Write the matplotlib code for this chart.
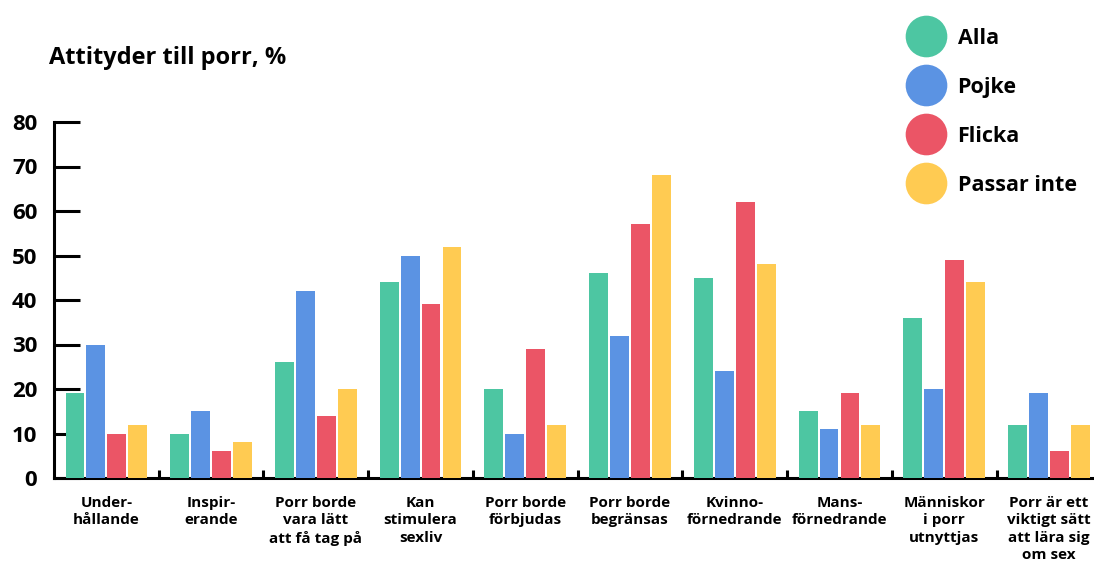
# Attityder till porr, %
import matplotlib.pyplot as plt
from matplotlib.lines import Line2D
import numpy as np

plt.rcParams['font.family'] = ['Open Sans', 'DejaVu Sans']
plt.rcParams['font.weight'] = 'bold'

# categories
categories = ["Under-\nhållande", "Inspir-\nerande", "Porr borde\nvara lätt\natt få tag på",
              "Kan\nstimulera\nsexliv", "Porr borde\nförbjudas", "Porr borde\nbegränsas",
              "Kvinno-\nförnedrande", "Mans-\nförnedrande", "Människor\ni porr\nutnyttjas",
              "Porr är ett\nviktigt sätt\natt lära sig\nom sex"]

# series values
alla = [19, 10, 26, 44, 20, 46, 45, 15, 36, 12]
pojke = [30, 15, 42, 50, 10, 32, 24, 11, 20, 19]
flicka = [10, 6, 14, 39, 29, 57, 62, 19, 49, 6]
passar_inte = [12, 8, 20, 52, 12, 68, 48, 12, 44, 12]

series = [("Alla", alla, "#4DC6A2"), ("Pojke", pojke, "#5B93E3"),
          ("Flicka", flicka, "#EB5566"), ("Passar inte", passar_inte, "#FFCB52")]

fig = plt.figure(figsize=(10.94, 5.64), dpi=100)
ax = fig.add_axes([54 / 1094, 86 / 564, 1 - 54 / 1094, 356 / 564])

x = np.arange(len(categories))
w = 0.18
for i, (name, vals, col) in enumerate(series):
    ax.bar(x + (i - 1.5) * 0.2, vals, width=w, color=col, zorder=3)

ax.set_ylim(0, 80)
ax.set_xlim(-0.5, 9.43)
ax.set_yticks(range(0, 81, 10))
ax.tick_params(axis='y', direction='in', length=19, width=2.2, pad=12, labelsize=16)
ax.set_xticks(x)
ax.set_xticklabels(categories, fontsize=11, linespacing=1.3)
ax.tick_params(axis='x', length=0, pad=13)
ax.set_xticks(np.arange(0.5, 9.5, 1), minor=True)
ax.tick_params(axis='x', which='minor', direction='in', length=6, width=2.2)

for s in ['top', 'right']:
    ax.spines[s].set_visible(False)
ax.spines['left'].set_linewidth(2.2)
ax.spines['bottom'].set_linewidth(2.2)

fig.text(49 / 1094, 1 - 58 / 564, "Attityder till porr, %", fontsize=17,
         fontweight='bold', va='center', ha='left')

handles = [Line2D([], [], marker='o', linestyle='none', markersize=30,
                  markerfacecolor=col, markeredgecolor='none') for _, _, col in series]
leg = fig.legend(handles, [s[0] for s in series], loc='upper left',
                 bbox_to_anchor=(894 / 1094, 1 - 17 / 564), frameon=False,
                 fontsize=15.5, labelspacing=1.3, handletextpad=0.45, borderpad=0)

plt.savefig('out.png', dpi=100)
